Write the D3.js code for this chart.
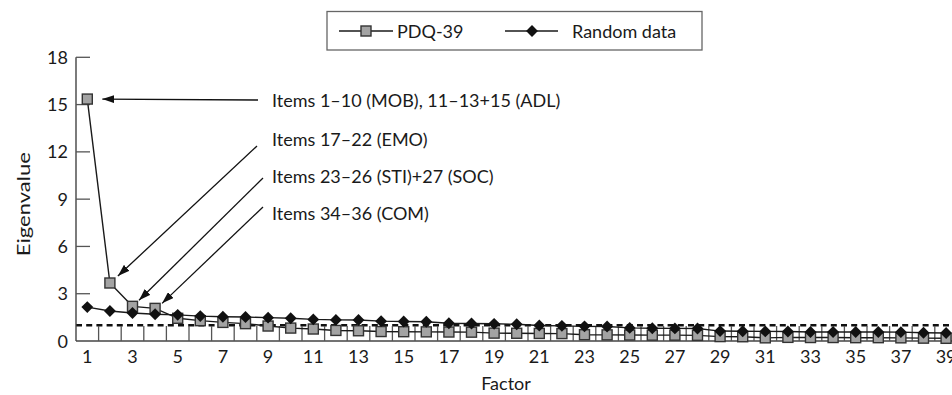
<!DOCTYPE html>
<html><head><meta charset="utf-8">
<script src="https://cdn.jsdelivr.net/npm/d3@7"></script>
<style>
body{margin:0;background:#fff}
svg{display:block}
text{font-family:Lato,"DejaVu Sans",sans-serif;fill:#1a1a1a;font-size:18px}
</style>
</head><body>
<svg id="c" width="952" height="395"></svg>
<script>
// ---- data ----
const factors = [1,2,3,4,5,6,7,8,9,10,11,12,13,14,15,16,17,18,19,20,21,22,23,24,25,26,27,28,29,30,31,32,33,34,35,36,37,38,39];
const pdq39 = [15.35,3.68,2.2,2.07,1.44,1.29,1.18,1.1,0.95,0.82,0.76,0.67,0.65,0.6,0.59,0.58,0.57,0.56,0.5,0.49,0.48,0.47,0.4,0.39,0.38,0.37,0.37,0.36,0.28,0.27,0.2,0.23,0.22,0.22,0.21,0.21,0.2,0.18,0.17];
const randomData = [2.15,1.9,1.78,1.7,1.66,1.58,1.54,1.52,1.48,1.44,1.37,1.34,1.33,1.26,1.24,1.22,1.13,1.11,1.09,1.06,0.98,0.96,0.93,0.92,0.83,0.81,0.8,0.79,0.63,0.62,0.61,0.6,0.57,0.57,0.57,0.57,0.56,0.52,0.51];
const seriesNames = ["PDQ-39","Random data"];
const yTicks = [0,3,6,9,12,15,18];
const xTickLabels = [1,3,5,7,9,11,13,15,17,19,21,23,25,27,29,31,33,35,37,39];
const thresholdValue = 1;
const annotationTexts = ["Items 1\u201310 (MOB), 11\u201313+15 (ADL)","Items 17\u201322 (EMO)","Items 23\u201326 (STI)+27 (SOC)","Items 34\u201336 (COM)"];
const annotationFactors = [1,2,3,4];

// ---- layout ----
const svg = d3.select("#c");
const pLeft = 76, pBottom = 341, pTop = 57.3, step = 22.6;
const x = d3.scaleBand().domain(factors).range([pLeft, pLeft + step*factors.length]).padding(0);
const y = d3.scaleLinear().domain([0,18]).range([pBottom, pTop]);
const cx = f => x(f) + x.bandwidth()/2;

const defs = svg.append("defs");
defs.append("marker").attr("id","ah").attr("markerUnits","userSpaceOnUse")
  .attr("viewBox","0 0 12 8").attr("refX",12).attr("refY",4)
  .attr("markerWidth",12).attr("markerHeight",8).attr("orient","auto")
  .append("path").attr("d","M0,0L12,4L0,8Z").attr("fill","#111");

// dashed threshold
svg.append("line").attr("x1",pLeft).attr("x2",952).attr("y1",y(thresholdValue)).attr("y2",y(thresholdValue))
  .attr("stroke","#111").attr("stroke-width",2.6).attr("stroke-dasharray","6,4.2");

// x axis: ticks at band boundaries, pointing up
const gx = svg.append("g");
gx.append("line").attr("x1",pLeft).attr("x2",952).attr("y1",pBottom).attr("y2",pBottom).attr("stroke","#444").attr("stroke-width",1.4);
gx.selectAll("line.t").data(factors.slice(1)).join("line").attr("class","t")
  .attr("x1",d=>x(d)).attr("x2",d=>x(d)).attr("y1",pBottom).attr("y2",pBottom-15)
  .attr("stroke","#555").attr("stroke-width",1.3);
gx.selectAll("text").data(xTickLabels).join("text")
  .attr("x",d=>cx(d)).attr("y",pBottom+22).attr("text-anchor","middle")
  .text(d=>d);

// y axis
const gy = svg.append("g");
gy.append("line").attr("x1",pLeft).attr("x2",pLeft).attr("y1",pBottom).attr("y2",pTop).attr("stroke","#444").attr("stroke-width",1.4);
gy.selectAll("line.t").data(yTicks.slice(1)).join("line").attr("class","t")
  .attr("x1",pLeft).attr("x2",pLeft+14).attr("y1",d=>y(d)).attr("y2",d=>y(d))
  .attr("stroke","#555").attr("stroke-width",1.3);
gy.selectAll("text").data(yTicks).join("text")
  .attr("x",pLeft-8).attr("y",d=>y(d)+6.5).attr("text-anchor","end")
  .text(d=>d);

svg.append("text").attr("transform",`translate(30,${(pTop+pBottom)/2+5}) rotate(-90)`)
  .attr("text-anchor","middle").attr("textLength",104).attr("lengthAdjust","spacingAndGlyphs").text("Eigenvalue");
svg.append("text").attr("x",506).attr("y",390).attr("text-anchor","middle").text("Factor");

// series
const line = d3.line().x((d,i)=>cx(factors[i])).y(d=>y(d));
svg.append("path").datum(pdq39).attr("d",line).attr("fill","none").attr("stroke","#1a1a1a").attr("stroke-width",1.4);
svg.append("g").selectAll("rect").data(pdq39).join("rect")
  .attr("x",(d,i)=>cx(factors[i])-5).attr("y",d=>y(d)-5).attr("width",10).attr("height",10)
  .attr("fill","#a3a3a3").attr("stroke","#333").attr("stroke-width",1.4);
svg.append("path").datum(randomData).attr("d",line).attr("fill","none").attr("stroke","#1a1a1a").attr("stroke-width",1.4);
const diamond = d3.symbol().type(d3.symbolDiamond2).size(90);
svg.append("g").selectAll("path").data(randomData).join("path")
  .attr("transform",(d,i)=>`translate(${cx(factors[i])},${y(d)})`).attr("d",diamond).attr("fill","#111");

// annotations
const labelX = 272, labelYs = [100,139,176,213];
const tails = [[258,100],[257,146],[263,178],[263,207]];
const tipOffsets = [[15,0],[8,-7],[6.5,-6],[7,-5]];
annotationTexts.forEach((t,i)=>{
  const f = annotationFactors[i];
  svg.append("line").attr("x1",tails[i][0]).attr("y1",tails[i][1])
    .attr("x2",cx(f)+tipOffsets[i][0]).attr("y2",y(pdq39[f-1])+tipOffsets[i][1])
    .attr("stroke","#111").attr("stroke-width",1.3).attr("marker-end","url(#ah)");
  svg.append("text").attr("x",labelX).attr("y",labelYs[i]+6.5).text(t);
});

// legend
const lg = svg.append("g");
lg.append("rect").attr("x",327).attr("y",11.5).attr("width",375).attr("height",38.5)
  .attr("fill","#fff").attr("stroke","#666").attr("stroke-width",1.3);
const ly = 31;
lg.append("line").attr("x1",339).attr("x2",393).attr("y1",ly).attr("y2",ly).attr("stroke","#1a1a1a").attr("stroke-width",1.3);
lg.append("rect").attr("x",361).attr("y",ly-5).attr("width",10).attr("height",10).attr("fill","#a3a3a3").attr("stroke","#333").attr("stroke-width",1.4);
lg.append("text").attr("x",397).attr("y",ly+6.5).text(seriesNames[0]);
lg.append("line").attr("x1",505).attr("x2",558).attr("y1",ly).attr("y2",ly).attr("stroke","#1a1a1a").attr("stroke-width",1.3);
lg.append("path").attr("transform",`translate(532,${ly})`).attr("d",diamond).attr("fill","#111");
lg.append("text").attr("x",572).attr("y",ly+6.5).attr("font-size",19).text(seriesNames[1]);
</script>
</body></html>
